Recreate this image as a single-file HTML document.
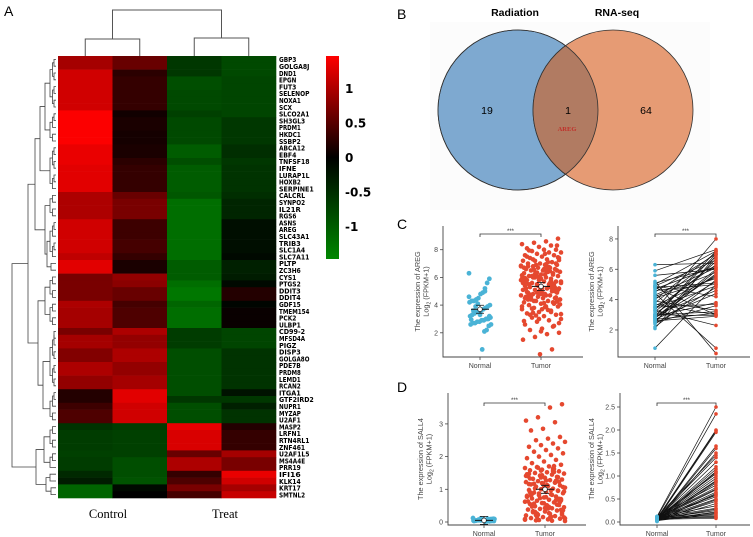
<!DOCTYPE html>
<html><head><meta charset="utf-8"><style>
html,body{margin:0;padding:0;background:#fff;}
svg{display:block;font-family:"Liberation Sans",sans-serif;}
</style></head><body>
<svg id="fig" width="753" height="537" viewBox="0 0 753 537" xmlns="http://www.w3.org/2000/svg">
<defs id="defs"><clipPath id="cl"><circle cx="518" cy="110" r="80"/></clipPath></defs>
<text x="4" y="16" font-size="14">A</text>
<text x="397" y="19" font-size="14">B</text>
<text x="397" y="229" font-size="14">C</text>
<text x="397" y="392" font-size="14">D</text>
<g id="heat"></g>
<g id="venn"></g>
<g id="plots"></g>
</svg>
<script>
const NS="http://www.w3.org/2000/svg";
function mk(parent,tag,attrs,txt){const e=document.createElementNS(NS,tag);for(const k in attrs)e.setAttribute(k,attrs[k]);if(txt!==undefined)e.textContent=txt;parent.appendChild(e);return e;}

// ---------- Heatmap data ----------
const genes=["GBP3","GOLGA8J","DND1","EPGN","FUT3","SELENOP","NOXA1","SCX","SLCO2A1","SH3GL3","PRDM1","HKDC1","SSBP2","ABCA12","EBF4","TNFSF18","IFNE","LURAP1L","HOXB2","SERPINE1","CALCRL","SYNPO2","IL21R","RGS6","ASNS","AREG","SLC43A1","TRIB3","SLC1A4","SLC7A11","PLTP","ZC3H6","CYS1","PTGS2","DDIT3","DDIT4","GDF15","TMEM154","PCK2","ULBP1","CD99-2","MFSD4A","PIGZ","DISP3","GOLGA8O","PDE7B","PRDM8","LEMD1","RCAN2","ITGA1","GTF2IRD2","NUPR1","MYZAP","U2AF1","MASP2","LRFN1","RTN4RL1","ZNF461","U2AF1L5","MS4A4E","PRR19","IFI16","KLK14","KRT17","SMTNL2"];
const sampleGroups=["Control","Treat"];
const colControl1=[0.95,0.95,1.2,1.2,1.2,1.2,1.2,1.2,1.45,1.45,1.45,1.45,1.45,1.35,1.35,1.35,1.3,1.3,1.3,1.3,1.0,1.0,1.0,1.0,1.2,1.2,1.2,1.2,1.2,1.1,1.3,1.3,0.7,0.7,0.7,0.7,1.0,0.95,0.95,0.95,0.7,0.95,0.95,0.75,0.75,1.0,1.0,0.85,0.85,0.2,0.2,0.35,0.45,0.45,-0.55,-0.65,-0.65,-0.65,-0.7,-0.65,-0.65,-0.45,-0.3,-1.1,-1.1];
const colControl2=[0.6,0.6,0.25,0.3,0.3,0.3,0.3,0.3,0.1,0.15,0.15,0.12,0.12,0.15,0.15,0.25,0.3,0.3,0.3,0.3,0.6,0.7,0.7,0.7,0.35,0.35,0.35,0.4,0.4,0.3,0.15,0.15,0.85,0.8,0.6,0.6,0.4,0.45,0.45,0.45,1.0,0.85,0.85,1.0,1.0,0.85,0.85,0.95,0.95,1.3,1.3,1.2,1.2,1.2,-0.65,-0.7,-0.7,-0.7,-0.7,-0.85,-0.85,-0.85,-0.9,-0.1,0.0];
const colTreat1=[-0.6,-0.6,-0.6,-0.85,-0.85,-0.8,-0.8,-0.8,-0.7,-0.8,-0.8,-0.8,-0.8,-1.0,-1.0,-0.85,-1.0,-1.0,-1.0,-1.0,-0.95,-1.2,-1.2,-1.2,-1.2,-1.2,-1.2,-1.2,-1.2,-1.2,-1.0,-1.0,-1.0,-1.2,-1.3,-1.3,-1.1,-1.2,-1.2,-1.2,-0.65,-0.65,-0.65,-0.85,-0.85,-0.85,-0.85,-0.85,-0.85,-0.85,-0.6,-0.85,-0.85,-0.85,1.35,1.25,1.25,1.25,0.6,1.0,1.0,0.3,0.45,0.7,0.4];
const colTreat2=[-0.8,-0.8,-0.8,-0.75,-0.75,-0.75,-0.75,-0.75,-0.75,-0.6,-0.6,-0.6,-0.6,-0.5,-0.5,-0.6,-0.55,-0.55,-0.55,-0.55,-0.5,-0.4,-0.4,-0.4,-0.15,-0.15,-0.15,-0.15,-0.15,-0.1,-0.35,-0.35,-0.3,-0.1,0.2,0.2,-0.05,0.05,0.05,0.05,-0.75,-0.75,-0.75,-0.55,-0.55,-0.55,-0.55,-0.55,-0.55,-0.2,-0.6,-0.35,-0.55,-0.55,0.2,0.3,0.3,0.3,0.95,0.7,0.7,1.35,1.2,0.95,1.15];
const scaleTicks=[1,0.5,0,-0.5,-1];

const H=document.getElementById('heat');
const defs=document.getElementById('defs');
const hx0=58,hx1=276,hy0=56,hy1=498,vmax=1.47;
const cols=[colControl1,colControl2,colTreat1,colTreat2];
const cw=(hx1-hx0)/cols.length, rh=(hy1-hy0)/genes.length;
function hcol(v){if(v>=0){return `rgb(${Math.round(Math.min(1,v/vmax)*255)},0,0)`;}return `rgb(0,${Math.round(Math.min(1,-v/vmax)*135)},0)`;}
function vy(v){return hy0+(vmax-v)/(2*vmax)*(259-hy0);}
genes.forEach((g,r)=>{
  cols.forEach((c,ci)=>{
    const e=mk(H,'rect',{x:hx0+ci*cw,y:hy0+r*rh,width:cw+0.3,height:rh+0.3,fill:hcol(c[r])});
    
    
  });
  const t=mk(H,'text',{x:279,y:hy0+r*rh+rh-0.6,'font-size':7,'font-weight':'bold','font-family':'"DejaVu Sans",sans-serif','textLength':g.length*4.35,'lengthAdjust':'spacingAndGlyphs'},g);
  
  
});
const lg=mk(defs,'linearGradient',{id:'cb',x1:0,y1:0,x2:0,y2:1});
mk(lg,'stop',{offset:'0','stop-color':'#ff0000'});mk(lg,'stop',{offset:'0.5','stop-color':'#000000'});mk(lg,'stop',{offset:'1','stop-color':'#008700'});
const cb=mk(H,'rect',{x:326,y:56,width:13,height:203,fill:'url(#cb)'});


scaleTicks.forEach(v=>{
  const t=mk(H,'text',{x:345,y:vy(v)+4.5,'font-size':12,'font-weight':'bold','font-family':'"DejaVu Sans",sans-serif'},String(v));
  
  
});
const cx=i=>hx0+cw*(i+0.5);
const colDend=[[cx(0),39,cx(1)],[cx(2),38,cx(3)]];
colDend.forEach(([a,y,b])=>{mk(H,'path',{d:`M${a},56V${y}H${b}V56`,fill:'none',stroke:'#555','stroke-width':1});});
mk(H,'path',{d:`M${(colDend[0][0]+colDend[0][2])/2},39V10H${(colDend[1][0]+colDend[1][2])/2}V38`,fill:'none',stroke:'#555','stroke-width':1});
const ry=i=>hy0+rh*(i+0.5);
function sub(a,b,hx){
  if(a===b)return {x:56,y:ry(a)};
  const m=Math.floor((a+b)/2);const L=sub(a,m,hx+2.5),R=sub(m+1,b,hx+2.5);
  const x=Math.min(hx,54);
  mk(H,'path',{d:`M${L.x},${L.y}H${x}V${R.y}H${R.x}`,fill:'none',stroke:'#444','stroke-width':0.8});
  return {x:x,y:(L.y+R.y)/2};
}
function join(L,R,x){mk(H,'path',{d:`M${L.x},${L.y}H${x}V${R.y}H${R.x}`,fill:'none',stroke:'#444','stroke-width':0.8});return {x:x,y:(L.y+R.y)/2};}
const gA=join(sub(0,7,50),sub(8,12,50),45), gB=sub(13,19,50);
const gAB=join(gA,gB,40);
const gC=join(sub(20,23,50),join(sub(24,29,50),sub(30,31,51),47),45);
const up1=join(gAB,gC,35);
const gD=join(sub(32,35,50),sub(36,39,50),45);
const gE=join(sub(40,48,50),sub(49,53,50),43);
const up2=join(gD,gE,38);
const upper=join(up1,up2,28);
const lo1=join(sub(54,57,50),sub(58,60,50),44);
const lo2=join(sub(61,62,50),sub(63,64,51),46);
const lower=join(lo1,lo2,36);
join(upper,lower,12);
const c1=mk(H,'text',{x:108,y:518,'font-size':12.5,'font-family':'"Liberation Serif",serif','text-anchor':'middle'},sampleGroups[0]);

const c2=mk(H,'text',{x:225,y:518,'font-size':12.5,'font-family':'"Liberation Serif",serif','text-anchor':'middle'},sampleGroups[1]);


// ---------- Venn ----------
const vennSets=["Radiation","RNA-seq"];
const vennCounts=[19,1,64];
const V=document.getElementById('venn');
mk(V,'rect',{x:430,y:22,width:280,height:188,fill:'#fcfcfc'});
const vc1=mk(V,'circle',{cx:518,cy:110,r:80,fill:'#7ea9d0',stroke:'#333','stroke-width':0.8});

const vc2=mk(V,'circle',{cx:613,cy:110,r:80,fill:'#e69b74',stroke:'#333','stroke-width':0.8});

const ov=mk(V,'circle',{cx:613,cy:110,r:80,fill:'#b17b62',stroke:'#333','stroke-width':0.8,'clip-path':'url(#cl)'});

mk(V,'circle',{cx:518,cy:110,r:80,fill:'none',stroke:'#333','stroke-width':0.8});
const vt=[[515,16,vennSets[0]],[617,16,vennSets[1]]];
vt.forEach(([x,y,s])=>{const t=mk(V,'text',{x:x,y:y,'font-size':10.5,'font-weight':'bold','text-anchor':'middle'},s);});
[[487,vennCounts[0]],[568,vennCounts[1]],[646,vennCounts[2]]].forEach(([x,n])=>{const t=mk(V,'text',{x:x,y:114,'font-size':10.5,'text-anchor':'middle'},String(n));});
const ar=mk(V,'text',{x:567,y:131,'font-size':6.5,'font-weight':'bold','fill':'#c0302a','font-family':'"Liberation Serif",serif','text-anchor':'middle'},'AREG');


// ---------- Expression plots ----------
const groups=["Normal","Tumor"];
const cLeftNormal=[6.3,5.9,5.6,5.2,4.9,4.8,4.5,4.4,4.3,4.3,4.2,4.0,3.9,3.8,3.7,3.6,3.5,3.5,3.4,3.3,3.2,3.1,3.0,3.0,2.9,2.9,2.8,2.8,2.7,2.7,2.6,2.6,2.5,2.2,2.1,0.8,3.3,4.1,3.9,3.6,2.95,4.6,3.2,3.0,5.0];
const cLeftTumor=[8.8,8.6,8.5,8.4,8.3,8.2,8.1,8.0,8.0,7.9,7.8,7.8,7.7,7.6,7.6,7.5,7.4,7.4,7.3,7.2,7.2,7.1,7.0,7.0,6.9,6.9,6.8,6.8,6.7,6.7,6.6,6.6,6.5,6.5,6.4,6.4,6.3,6.3,6.2,6.2,6.1,6.1,6.0,6.0,5.9,5.9,5.8,5.8,5.7,5.7,5.6,5.6,5.5,5.5,5.4,5.4,5.3,5.3,5.2,5.2,5.1,5.1,5.0,5.0,4.9,4.9,4.8,4.8,4.7,4.7,4.6,4.6,4.5,4.5,4.4,4.4,4.3,4.3,4.2,4.2,4.1,4.0,3.9,3.9,3.8,3.7,3.6,3.5,3.4,3.3,3.2,3.1,3.0,2.9,2.8,2.6,2.5,2.3,2.2,2.0,1.9,1.7,1.5,0.8,0.45,6.8,6.5,6.2,6.0,5.8,5.6,5.4,5.2,5.0,4.8,4.6,4.4,7.1,6.9,6.7,6.3,5.9,5.5,5.1,4.7,4.3,3.9,3.5,3.0,7.5,7.0,6.6,6.1,5.7,5.3,4.9,4.5,4.1,3.7,3.3,2.7,6.4,6.0,5.6,5.2,4.8,4.4,8.3,7.7,7.3,6.85,6.45,6.05,5.65,5.25,4.85,4.45,4.05,3.65,3.25,2.85,2.45,2.1,7.95,7.45,6.95,6.55,6.15,5.75,5.35,4.95,4.55,4.15,3.75,3.35,6.75,6.35,5.95,5.55,5.15,4.75,7.25,6.65,6.25,5.85,5.45,5.05,4.65,4.25,3.85,3.45];
const cRightNormal=[6.3,5.9,5.6,5.2,5.0,4.9,4.8,4.7,4.6,4.5,4.4,4.3,4.2,4.0,3.9,3.8,3.7,3.6,3.5,3.4,3.3,3.2,3.1,3.0,3.0,2.9,2.9,2.8,2.8,2.7,2.7,2.6,2.6,2.5,2.5,2.4,2.2,2.1,0.8,3.3,3.5,4.1,4.8,5.1,2.9,3.0,4.9,2.8];
const cRightTumor=[6.4,7.3,6.0,0.45,7.2,6.6,5.1,6.2,5.0,7.0,0.8,6.1,5.8,7.1,3.3,6.8,3.0,5.5,4.9,6.3,2.3,6.5,5.6,3.2,4.6,7.0,3.8,5.2,6.0,3.1,4.4,5.9,2.9,6.7,3.6,4.8,5.3,6.9,5.0,8.0,3.7,5.4,3.0,6.1,7.2,2.95,4.2,5.7];
const dLeftNormal=[0.12,0.1,0.09,0.08,0.07,0.06,0.06,0.05,0.05,0.04,0.04,0.03,0.03,0.02,0.02,0.01,0.08,0.11,0.07,0.05,0.03,0.09,0.06,0.04,0.1,0.02,0.07,0.05];
const dLeftTumor=[3.6,3.5,3.2,3.1,3.05,2.85,2.8,2.6,2.55,2.5,2.45,2.4,2.35,2.3,2.25,2.2,2.15,2.1,2.05,2.0,1.95,1.9,1.85,1.8,1.75,1.7,1.68,1.65,1.62,1.6,1.58,1.55,1.52,1.5,1.48,1.45,1.42,1.4,1.38,1.35,1.32,1.3,1.28,1.25,1.22,1.2,1.18,1.15,1.12,1.1,1.08,1.05,1.02,1.0,0.98,0.95,0.92,0.9,0.88,0.85,0.82,0.8,0.78,0.75,0.72,0.7,0.68,0.65,0.62,0.6,0.58,0.55,0.52,0.5,0.48,0.45,0.42,0.4,0.38,0.35,0.32,0.3,0.28,0.25,0.22,0.2,0.18,0.15,0.12,0.1,0.08,0.05,0.03,1.63,1.57,1.47,1.37,1.27,1.17,1.07,0.97,0.87,0.77,0.67,0.57,0.47,0.37,0.27,0.17,0.07,1.53,1.43,1.33,1.23,1.13,1.03,0.93,0.83,0.73,0.63,0.53,0.43,0.33,0.23,0.13,1.66,1.41,1.21,1.01,0.81,0.61,0.41,0.21,0.11,1.56,1.36,1.16,0.96,0.76,0.56,0.36,0.16,0.06,1.46,1.26,1.06,0.86,0.66,0.46,0.26,0.09,1.71,1.19,0.91,0.71,0.51,0.31,0.14,0.04];
const dRightTumor=[2.5,2.35,2.0,1.98,1.95,1.65,1.6,1.5,1.45,1.4,1.3,1.2,1.15,1.1,1.05,1.0,0.95,0.9,0.85,0.8,0.75,0.7,0.65,0.6,0.58,0.55,0.5,0.45,0.4,0.35,0.3,0.25,0.2,0.18,0.15,0.12,0.1,0.08,0.22,0.62,0.72,1.08,0.88,0.48,0.28];
const dRightNormal=[0.12,0.1,0.08,0.06,0.05,0.04,0.03,0.02,0.11,0.09,0.07,0.05,0.03,0.01,0.1,0.08,0.06,0.04,0.02,0.12,0.09,0.07,0.05,0.03,0.1,0.08,0.06,0.04,0.02,0.11,0.09,0.07,0.05,0.03,0.12,0.1,0.08,0.06,0.04,0.02,0.09,0.07,0.05,0.03,0.06];
const cMeans=[3.7,5.35], dMeans=[0.05,1.0];
const cLeftTicks=[2,4,6,8], cRightTicks=[2,4,6,8], dLeftTicks=[0,1,2,3], dRightTicks=["0.0","0.5","1.0","1.5","2.0","2.5"];

const P=document.getElementById('plots');
const BLUE='#4ab3d6', RED='#e5482f';
function jit(i){return ((i*37)%41)/40-0.5;}
function axes(o){
  const g=mk(P,'g',{});
  
  
  const y=v=>o.y0-(v)*o.k;
  mk(g,'path',{d:`M${o.xa},${o.top}V${o.bot}H${o.xe}`,fill:'none',stroke:'#444','stroke-width':0.9});
  o.ticks.forEach(t=>{const v=parseFloat(t);mk(g,'line',{x1:o.xa-3,x2:o.xa,y1:y(v),y2:y(v),stroke:'#444','stroke-width':0.8});
    const tt=mk(g,'text',{x:o.xa-5,y:y(v)+2.5,'font-size':7,'fill':'#444','text-anchor':'end'},String(t));
    });
  [o.xn,o.xt].forEach((x,i)=>{mk(g,'line',{x1:x,x2:x,y1:o.bot,y2:o.bot+3,stroke:'#444','stroke-width':0.8});
    const tt=mk(g,'text',{x:x,y:o.bot+11,'font-size':7,'fill':'#444','text-anchor':'middle'},groups[i]);
    });
  const cy=(o.top+o.bot)/2;
  const t1=mk(g,'text',{x:0,y:0,'font-size':7.3,'fill':'#444','text-anchor':'middle',transform:`translate(${o.lx},${cy}) rotate(-90)`},`The expression of ${o.gene}`);
  
  const t2=mk(g,'text',{x:0,y:0,'font-size':7.3,'fill':'#444','text-anchor':'middle',transform:`translate(${o.lx+8.5},${cy}) rotate(-90)`});
  
  t2.appendChild(document.createTextNode('Log'));mk(t2,'tspan',{'font-size':5,dy:2},'2');mk(t2,'tspan',{dy:-2},' (FPKM+1)');
  mk(g,'path',{d:`M${o.xn},${o.sy+3}V${o.sy}H${o.xt}V${o.sy+3}`,fill:'none',stroke:'#333','stroke-width':0.8});
  const st=mk(g,'text',{x:(o.xn+o.xt)/2,y:o.sy-1,'font-size':6,'fill':'#333','text-anchor':'middle'},'***');
  
  return {g,y};
}
function scatter(o,normal,tumor,means,wn,wt){
  const {g,y}=axes(o);
  normal.forEach((v,i)=>{const c=mk(g,'circle',{cx:o.xn+jit(i)*wn,cy:y(v),r:2.4,fill:BLUE});
    });
  tumor.forEach((v,i)=>{const c=mk(g,'circle',{cx:o.xt+jit(i*3+1)*wt,cy:y(v),r:2.3,fill:RED});
    });
  [o.xn,o.xt].forEach((x,i)=>{const m=y(means[i]);
    mk(g,'line',{x1:x-9,x2:x+9,y1:m,y2:m,stroke:'#111','stroke-width':1});
    mk(g,'path',{d:`M${x-4},${m-4}H${x+4}M${x},${m-4}V${m+4}M${x-4},${m+4}H${x+4}`,stroke:'#111','stroke-width':0.8,fill:'none'});
    const c=mk(g,'circle',{cx:x,cy:m,r:2.3,fill:'#fff',stroke:'#111','stroke-width':0.7});
    });
}
function paired(o,normal,tumor){
  const {g,y}=axes(o);
  const n=Math.min(normal.length,tumor.length);
  for(let i=0;i<n;i++){const l=mk(g,'line',{x1:o.xn,y1:y(normal[i]),x2:o.xt,y2:y(tumor[i]),stroke:'#111','stroke-width':0.7});
    }
  for(let i=0;i<n;i++){
    const a=mk(g,'circle',{cx:o.xn,cy:y(normal[i]),r:1.8,fill:BLUE});
    const b=mk(g,'circle',{cx:o.xt,cy:y(tumor[i]),r:1.8,fill:RED});}
}
scatter({name:'areg-unpaired-plot',gene:'AREG',xa:443,xe:583,top:226,bot:357,y0:360.5,k:13.85,ticks:cLeftTicks,xn:480,xt:541,lx:420,sy:234},cLeftNormal,cLeftTumor,cMeans,22,40);
paired({name:'areg-paired-plot',gene:'AREG',xa:618,xe:750,top:226,bot:357,y0:360.3,k:15.17,ticks:cRightTicks,xn:655,xt:716,lx:594,sy:234},cRightNormal,cRightTumor);
scatter({name:'sall4-unpaired-plot',gene:'SALL4',xa:448,xe:586,top:393,bot:525,y0:522,k:32.7,ticks:dLeftTicks,xn:484,xt:545,lx:423,sy:403},dLeftNormal,dLeftTumor,dMeans,22,40);
paired({name:'sall4-paired-plot',gene:'SALL4',xa:620,xe:750,top:393,bot:525,y0:522,k:46,ticks:dRightTicks,xn:657,xt:716,lx:594,sy:403},dRightNormal,dRightTumor);
</script>
</body></html>
